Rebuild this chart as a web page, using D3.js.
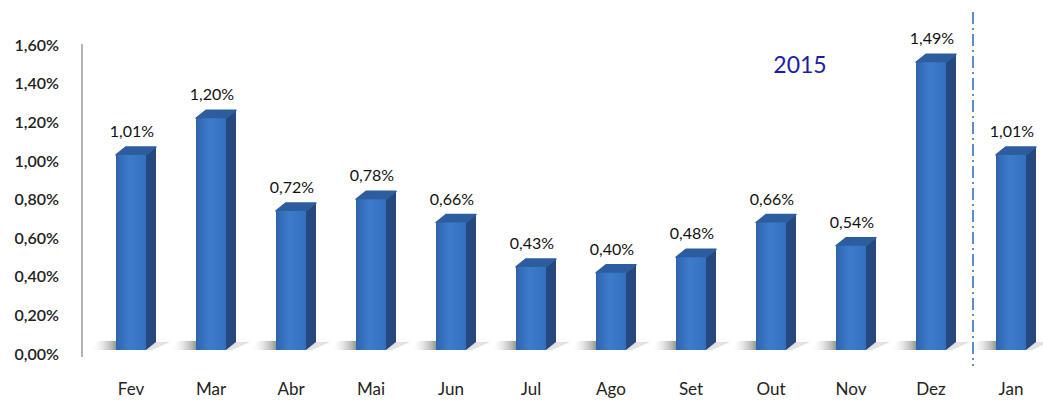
<!DOCTYPE html>
<html><head><meta charset="utf-8">
<script src="https://cdn.jsdelivr.net/npm/d3@7"></script>
<style>body{margin:0;background:#fff}svg{display:block}</style>
</head><body>
<svg id="c" width="1043" height="401"></svg>
<script>
const categories = ["Fev","Mar","Abr","Mai","Jun","Jul","Ago","Set","Out","Nov","Dez","Jan"];
const values = [1.01,1.20,0.72,0.78,0.66,0.43,0.40,0.48,0.66,0.54,1.49,1.01];
const tickValues = [0,0.2,0.4,0.6,0.8,1.0,1.2,1.4,1.6];
const yearLabel = "2015";

const svg = d3.select("#c");
const font = "Lato, 'Open Sans', sans-serif";
const x = d3.scaleBand().domain(categories).range([91,1051]);
const y = d3.scaleLinear().domain([0,1.6]).range([350,41]);
const fmt = v => d3.format(".2f")(v).replace(".", ",") + "%";

const defs = svg.append("defs");
const gFront = defs.append("linearGradient").attr("id","gf").attr("x1",0).attr("x2",1).attr("y1",0).attr("y2",0);
gFront.append("stop").attr("offset",0).attr("stop-color","#2f64ad");
gFront.append("stop").attr("offset",0.45).attr("stop-color","#3d7cca");
gFront.append("stop").attr("offset",1).attr("stop-color","#3470bd");
const gSh = defs.append("linearGradient").attr("id","gs").attr("x1",0).attr("x2",1).attr("y1",0).attr("y2",0);
gSh.append("stop").attr("offset",0).attr("stop-color","#ffffff").attr("stop-opacity",0);
gSh.append("stop").attr("offset",1).attr("stop-color","#8a8a8a").attr("stop-opacity",0.9);

// y axis
const yAxis = d3.axisLeft(y).tickValues(tickValues).tickSize(0).tickFormat(fmt);
const ya = svg.append("g").attr("transform","translate(62,4)").call(yAxis);
ya.select(".domain").remove();
ya.selectAll("text").attr("font-family",font).attr("font-size",16).attr("font-weight",600).attr("fill","#222");
svg.append("line").attr("x1",82).attr("x2",82).attr("y1",44).attr("y2",357).attr("stroke","#9a9a9a").attr("stroke-width",1.5);

const bw = x.bandwidth()*0.375;
const dx = 10, dy = 8;
const g = svg.append("g");
const bars = g.selectAll("g.bar").data(categories).join("g");
// floor shadow
bars.append("path").attr("d",(c)=>{
  const l = x(c)+x.bandwidth()/2-bw/2;
  return `M${l-26},${y(0)} L${l},${y(0)} L${l},${y(0)-9} L${l-18},${y(0)-9} Z`;
}).attr("fill","url(#gs)");
bars.append("path").attr("d",(c)=>{
  const r = x(c)+x.bandwidth()/2+bw/2;
  return `M${r},${y(0)} L${r+dx},${y(0)-dy} L${r+dx+14},${y(0)-dy} L${r+6},${y(0)} Z`;
}).attr("fill","#cfcfcf").attr("opacity",0.6);
// side
bars.append("path").attr("d",(c,i)=>{
  const r = x(c)+x.bandwidth()/2+bw/2, t = y(values[i]), b = y(0);
  return `M${r},${t} L${r+dx},${t-dy} L${r+dx},${b-dy} L${r},${b} Z`;
}).attr("fill","#24497f");
// top
bars.append("path").attr("d",(c,i)=>{
  const l = x(c)+x.bandwidth()/2-bw/2, r = l+bw, t = y(values[i]);
  return `M${l},${t} L${l+dx},${t-dy} L${r+dx},${t-dy} L${r},${t} Z`;
}).attr("fill","#2c5d9f").attr("stroke","#2c5d9f").attr("stroke-linejoin","round").attr("stroke-width",1.5);
// front
bars.append("rect").attr("x",c=>x(c)+x.bandwidth()/2-bw/2).attr("width",bw)
  .attr("y",(c,i)=>y(values[i])).attr("height",(c,i)=>y(0)-y(values[i])).attr("fill","url(#gf)");
// value labels
bars.append("text").attr("x",c=>x(c)+x.bandwidth()/2+1).attr("y",(c,i)=>y(values[i])-18)
  .attr("text-anchor","middle").attr("font-family",font).attr("font-size",16).attr("fill","#111")
  .text((c,i)=>fmt(values[i]));

// x axis labels
const xAxis = d3.axisBottom(x).tickSize(0);
const xa = svg.append("g").attr("transform","translate(0,380)").call(xAxis);
xa.select(".domain").remove();
xa.selectAll("text").attr("font-family",font).attr("font-size",17).attr("fill","#222");

// separator
const sepX = (x("Dez")+x.bandwidth()/2 + x("Jan")+x.bandwidth()/2)/2 + 2;
svg.append("line").attr("x1",sepX).attr("x2",sepX).attr("y1",12).attr("y2",366)
  .attr("stroke","#5b8ed0").attr("stroke-width",2).attr("stroke-dasharray","12,4,2,4");

svg.append("text").attr("x",800).attr("y",73).attr("text-anchor","middle")
  .attr("font-family",font).attr("font-size",23).attr("fill","#1c1ca8").text(yearLabel);
</script>
</body></html>
